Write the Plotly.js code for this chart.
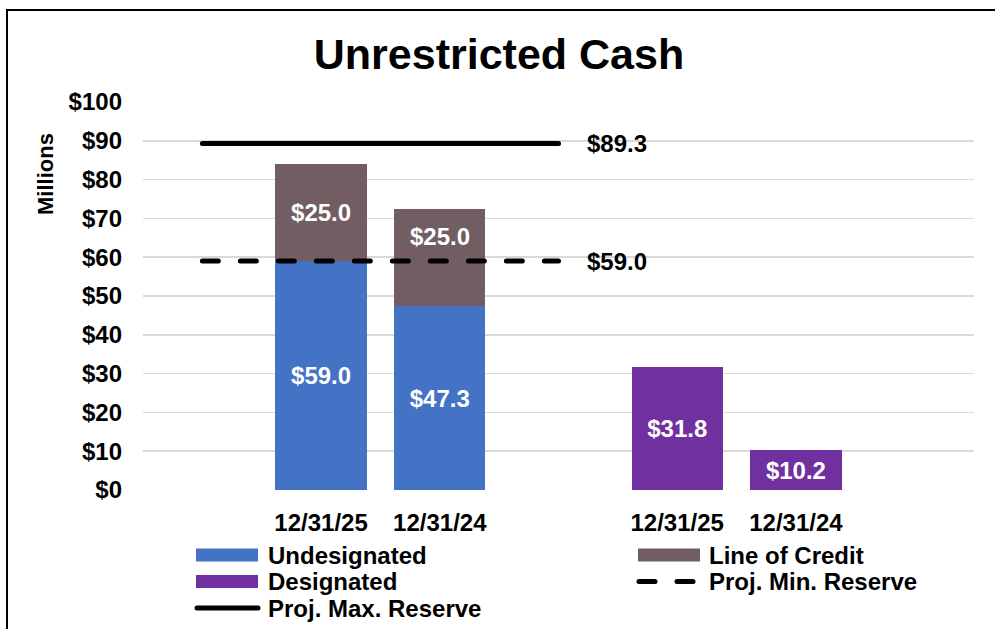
<!DOCTYPE html>
<html>
<head>
<meta charset="utf-8">
<script src="https://cdn.plot.ly/plotly-3.0.1.min.js"></script>
<style>
  html, body { margin: 0; padding: 0; background: #fff; overflow: hidden; }
  #wrap { position: relative; width: 995px; height: 629px; overflow: hidden; }
  #chart { position: absolute; left: 0; top: 0; width: 995px; height: 629px; }
  #frame { position: absolute; left: 6px; top: 9px; width: 1000px; height: 700px; border: 2px solid #000; box-sizing: border-box; pointer-events: none; }
  .scatterlayer .js-line, .shapelayer path { stroke-linecap: round; }
</style>
</head>
<body>
<div id="wrap">
  <div id="chart"></div>
  <div id="frame"></div>
</div>
<script>
// ---- data ----
const slotPositions = [1, 2, 4, 5];
const tickLabels = ["12/31/25", "12/31/24", "12/31/25", "12/31/24"];
const undesignatedX = [1, 2];
const undesignated = [59.0, 47.3];
const lineOfCreditX = [1, 2];
const lineOfCredit = [25.0, 25.0];
const designatedX = [4, 5];
const designated = [31.8, 10.2];
const reserveX = [0, 3];
const projMaxReserve = [89.3, 89.3];
const projMinReserve = [59.0, 59.0];
const yTickVals = [0, 10, 20, 30, 40, 50, 60, 70, 80, 90, 100];
const yTickText = ["$0", "$10", "$20", "$30", "$40", "$50", "$60", "$70", "$80", "$90", "$100"];
const seriesNames = ["Undesignated", "Line of Credit", "Designated", "Proj. Min. Reserve", "Proj. Max. Reserve"];

const FONT = "Liberation Sans, Arial, sans-serif";
const BLUE = "#4472C4";
const MAUVE = "#725E62";
const PURPLE = "#7030A0";
const FS = 24;

function money(v) { return "$" + v.toFixed(1); }
function bold(size, color) { return {family: FONT, size: size, color: color || "#000", weight: "bold"}; }

// plot geometry (pixels) used only for placing legend / titles
const W = 995, H = 629;
const M = {l: 143, r: 21, t: 102, b: 139};
const PW = W - M.l - M.r, PH = H - M.t - M.b;
const px = x => (x - M.l) / PW;
const py = y => (H - M.b - y) / PH;

// the second line-of-credit label sits in the upper part of its segment (as in the original)
const locText = lineOfCredit.map((v, i) => i === 1 ? "" : money(v));

const traces = [
  {type: "bar", name: seriesNames[0], x: undesignatedX, y: undesignated,
   marker: {color: BLUE}, text: undesignated.map(money), textposition: "inside",
   insidetextanchor: "middle", textfont: bold(FS, "#fff"), constraintext: "none",
   showlegend: false},
  {type: "bar", name: seriesNames[1], x: lineOfCreditX, y: lineOfCredit,
   marker: {color: MAUVE}, text: locText, textposition: "inside",
   insidetextanchor: "middle", textfont: bold(FS, "#fff"), constraintext: "none",
   showlegend: false},
  {type: "bar", name: seriesNames[2], x: designatedX, y: designated,
   marker: {color: PURPLE}, text: designated.map(money), textposition: "inside",
   insidetextanchor: "middle", textfont: bold(FS, "#fff"), constraintext: "none",
   showlegend: false},
  {type: "scatter", mode: "lines", name: seriesNames[4], x: reserveX, y: projMaxReserve,
   line: {color: "#000", width: 5}, showlegend: false},
  {type: "scatter", mode: "lines", name: seriesNames[3], x: reserveX, y: projMinReserve,
   line: {color: "#000", width: 5, dash: "16px,22px"}, showlegend: false}
];

// manual legend (two columns, like the original)
const legendItems = [
  {name: seriesNames[0], kind: "rect", color: BLUE, col: 0, row: 0},
  {name: seriesNames[1], kind: "rect", color: MAUVE, col: 1, row: 0},
  {name: seriesNames[2], kind: "rect", color: PURPLE, col: 0, row: 1},
  {name: seriesNames[3], kind: "dash", color: "#000", col: 1, row: 1},
  {name: seriesNames[4], kind: "solid", color: "#000", col: 0, row: 2}
];
const colSym = [196, 638], colText = [266, 707], rowY = [555, 581.5, 608];
const shapes = [], annotations = [];
legendItems.forEach(it => {
  const x0 = colSym[it.col], y = rowY[it.row];
  if (it.kind === "rect") {
    shapes.push({type: "rect", xref: "paper", yref: "paper",
      x0: px(x0), x1: px(x0 + 62), y0: py(y + 6.5), y1: py(y - 6.5),
      fillcolor: it.color, line: {width: 0}});
  } else {
    shapes.push({type: "line", xref: "paper", yref: "paper",
      x0: px(x0 + 1), x1: px(x0 + (it.kind === "dash" ? 56 : 62)), y0: py(y), y1: py(y),
      line: {color: it.color, width: 5, dash: it.kind === "dash" ? "16px,22px" : "solid"}});
  }
  annotations.push({text: it.name, xref: "paper", yref: "paper", x: px(colText[it.col]), y: py(y),
    xanchor: "left", yanchor: "middle", showarrow: false, font: bold(FS)});
});

annotations.push(
  {text: "Millions", xref: "paper", yref: "paper", x: px(45), y: py(174), textangle: -90,
   showarrow: false, xanchor: "center", yanchor: "middle", font: bold(22)},
  {text: money(projMaxReserve[1]), xref: "x", yref: "y", x: reserveX[1], y: projMaxReserve[1],
   xanchor: "left", yanchor: "middle", xshift: 26, showarrow: false, font: bold(FS)},
  {text: money(projMinReserve[1]), xref: "x", yref: "y", x: reserveX[1], y: projMinReserve[1],
   xanchor: "left", yanchor: "middle", xshift: 26, showarrow: false, font: bold(FS)},
  {text: money(lineOfCredit[1]), xref: "x", yref: "y", x: lineOfCreditX[1],
   y: undesignated[1] + lineOfCredit[1] * 0.72, xanchor: "center", yanchor: "middle",
   showarrow: false, font: bold(FS, "#fff")}
);

const layout = {
  width: W, height: H,
  margin: Object.assign({autoexpand: false}, M),
  paper_bgcolor: "#fff", plot_bgcolor: "#fff",
  font: bold(FS),
  title: {text: "Unrestricted Cash", xref: "container", x: 499 / W, xanchor: "center",
          yref: "container", y: 1 - 54 / H, yanchor: "middle", font: bold(43)},
  barmode: "stack",
  bargap: 0.23,
  showlegend: false,
  xaxis: {range: [-0.5, 6.5], tickmode: "array", tickvals: slotPositions, ticktext: tickLabels,
          showgrid: false, zeroline: false, showline: false, ticks: "",
          ticklabelstandoff: 16, fixedrange: true, tickfont: bold(FS)},
  yaxis: {range: [0, 100], tickmode: "array", tickvals: yTickVals, ticktext: yTickText,
          showgrid: true, gridcolor: "#D9D9D9", gridwidth: 1.5, zeroline: false,
          showline: false, ticks: "", ticklabelstandoff: 20, fixedrange: true, tickfont: bold(FS)},
  shapes: shapes,
  annotations: annotations
};

Plotly.newPlot("chart", traces, layout, {displayModeBar: false, staticPlot: true});
</script>
</body>
</html>
